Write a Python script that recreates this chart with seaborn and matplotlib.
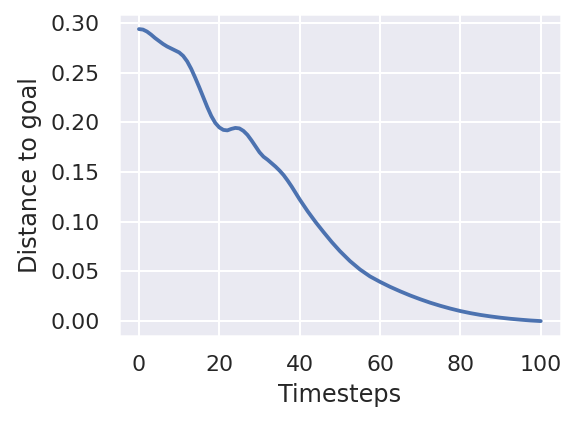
import matplotlib
matplotlib.use("Agg")
import matplotlib.pyplot as plt
import seaborn as sns
import pandas as pd

# Valores
timesteps = [0, 1, 2, 3, 4, 5, 6, 7, 8, 9, 10, 11, 12, 13, 14, 15, 16, 17,
             18, 19, 20, 21, 22, 23, 24, 25, 26, 27, 28, 29, 30, 31, 32, 33,
             34, 35, 36, 37, 38, 39, 40, 42, 44, 46, 48, 50, 52.5, 55, 57.5,
             60, 62.5, 65, 67.5, 70, 72.5, 75, 77.5, 80, 82.5, 85, 87.5, 90,
             92.5, 95, 97.5, 100]
distance = [0.294, 0.2935, 0.2915, 0.2885, 0.285, 0.282, 0.279, 0.2765,
            0.2745, 0.2725, 0.2705, 0.267, 0.2615, 0.254, 0.245, 0.2355,
            0.2255, 0.2155, 0.2065, 0.1995, 0.195, 0.1925, 0.192, 0.1935,
            0.1945, 0.194, 0.1915, 0.1875, 0.182, 0.176, 0.170, 0.1655,
            0.1625, 0.159, 0.1555, 0.1515, 0.147, 0.1415, 0.1355, 0.129,
            0.1225, 0.1105, 0.0995, 0.0893, 0.0795, 0.0705, 0.0605, 0.052,
            0.045, 0.0395, 0.0345, 0.030, 0.0258, 0.022, 0.0185, 0.0154,
            0.0126, 0.0101, 0.0080, 0.0062, 0.0047, 0.0034, 0.0023, 0.0014,
            0.0006, 0.0]

sns.set_theme(style="darkgrid")

df = pd.DataFrame({"Timesteps": timesteps, "Distance to goal": distance})

fig, ax = plt.subplots(figsize=(577 / 144, 426 / 144), dpi=144)
sns.lineplot(data=df, x="Timesteps", y="Distance to goal", ax=ax, linewidth=1.9)
ax.set_xticks([0, 20, 40, 60, 80, 100])
ax.set_yticks([0.0, 0.05, 0.10, 0.15, 0.20, 0.25, 0.30])
ax.set_yticklabels(["0.00", "0.05", "0.10", "0.15", "0.20", "0.25", "0.30"])
fig.subplots_adjust(left=0.206, right=0.972, bottom=0.212, top=0.966)

fig.savefig("out.png", dpi=144)
